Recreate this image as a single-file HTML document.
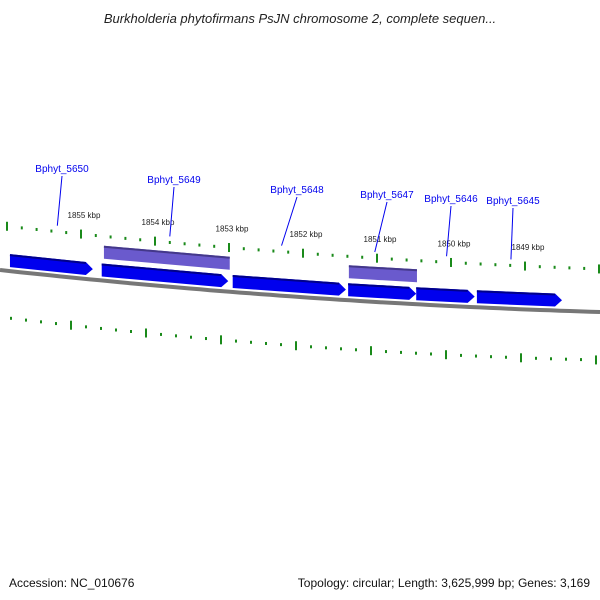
<!DOCTYPE html>
<html><head><meta charset="utf-8"><style>
body{margin:0;background:#fff}
svg{display:block;font-family:"Liberation Sans","DejaVu Sans",sans-serif}
</style></head><body>
<svg id="map" width="600" height="600" viewBox="0 0 600 600" xmlns="http://www.w3.org/2000/svg">
<text x="300" y="23" text-anchor="middle" font-size="13" font-style="italic" fill="#222">Burkholderia phytofirmans PsJN chromosome 2, complete sequen...</text>
<text x="9" y="587" font-size="12" fill="#111">Accession: NC_010676</text>
<text x="590" y="587" text-anchor="end" font-size="12" fill="#111">Topology: circular; Length: 3,625,999 bp; Genes: 3,169</text>
<g id="layer"></g>
</svg>
<script>
const tickKbp = [1856,1855,1854,1853,1852,1851,1850,1849,1848];
const tickLabels = ["1855 kbp","1854 kbp","1853 kbp","1852 kbp","1851 kbp","1850 kbp","1849 kbp"];
const labelKbp = [1855,1854,1853,1852,1851,1850,1849];
const fwdStart = [1855.96,1854.72,1852.95,1851.39,1850.47,1849.65];
const fwdEnd   = [1854.84,1853.01,1851.42,1850.47,1849.68,1848.50];
const revStart = [1854.69,1851.38];
const revEnd   = [1852.99,1850.46];
const geneNames = ["Bphyt_5650","Bphyt_5649","Bphyt_5648","Bphyt_5647","Bphyt_5646","Bphyt_5645"];
const geneKbp = [1855.32,1853.80,1852.29,1851.03,1850.06,1849.19];

const NS="http://www.w3.org/2000/svg";
const L=document.getElementById('layer');
const X=k=>81+(1855-k)*74;
const XL=k=>71+(1855-k)*75;
const yU=x=>225.5+0.1108*x-6.39e-5*x*x;
const yL=x=>317+0.1217*x-8.33e-5*x*x;
const yB=x=>270+0.11*x-6.67e-5*x*x;
function mk(t,a){const e=document.createElementNS(NS,t);for(const k in a)e.setAttribute(k,a[k]);L.appendChild(e);return e;}

// backbone
let d="";for(let x=0;x<=600;x+=10)d+=(x?"L":"M")+x+","+yB(x).toFixed(1);
let bb=mk('path',{d:d,stroke:'#777',"stroke-width":4,fill:'none'});



// ticks
for(let k=tickKbp[0];k>=tickKbp[tickKbp.length-1]-0.01;k-=0.2){
  const kk=Math.round(k*10)/10, major=Math.abs(kk-Math.round(kk))<0.01;
  [[X(kk),yU],[XL(kk),yL]].forEach(([x,f],i)=>{
    if(x<0||x>600)return;
    const y=f(x);const h=major?4.5:1.5;
    const t=mk('line',{x1:x,y1:y-h,x2:x,y2:y+h,stroke:'#1a8a1a',"stroke-width":2});
    
    
  });
}
labelKbp.forEach((k,i)=>{
  const x=X(k);
  const t=mk('text',{x:x+3,y:yU(x)-16,"font-size":8,fill:'#222','text-anchor':'middle'});
  t.textContent=tickLabels[i];
  
  
});

function gene(s,e,o1,o2,fill,dark,arrow,name){
  const x1=X(s),x2=X(e),tip=arrow?7:0;
  const p=[[x1,yB(x1)-o1],[x2-tip,yB(x2-tip)-o1],[x2,yB(x2)-(o1+o2)/2],[x2-tip,yB(x2-tip)-o2],[x1,yB(x1)-o2]];
  const g=mk('polygon',{points:p.map(q=>q.join(',')).join(' '),fill:fill});
  
  
  const s1=mk('line',{x1:x1,y1:yB(x1)-o1+1,x2:x2-tip,y2:yB(x2-tip)-o1+1,stroke:dark,"stroke-width":2});
  
  
}
fwdStart.forEach((s,i)=>gene(s,fwdEnd[i],17,4,'#0000ee','#00008a',true,'forward-gene'));
revStart.forEach((s,i)=>gene(s,revEnd[i],35,22,'#6a5acd','#44388a',false,'reverse-gene'));

const lblX=[62,174,297,387,451,513], lblY=[168,179,189,194,198,200];
geneNames.forEach((n,i)=>{
  const gx=X(geneKbp[i]);
  const ln=mk('line',{x1:lblX[i],y1:lblY[i]+8,x2:gx,y2:yU(gx)-6,stroke:'#0000ee',"stroke-width":1});
  
  
  const t=mk('text',{x:lblX[i],y:lblY[i]+4,"font-size":10,fill:'#0000ee','text-anchor':'middle'});
  t.textContent=n;
  
  
});
</script>
</body></html>
